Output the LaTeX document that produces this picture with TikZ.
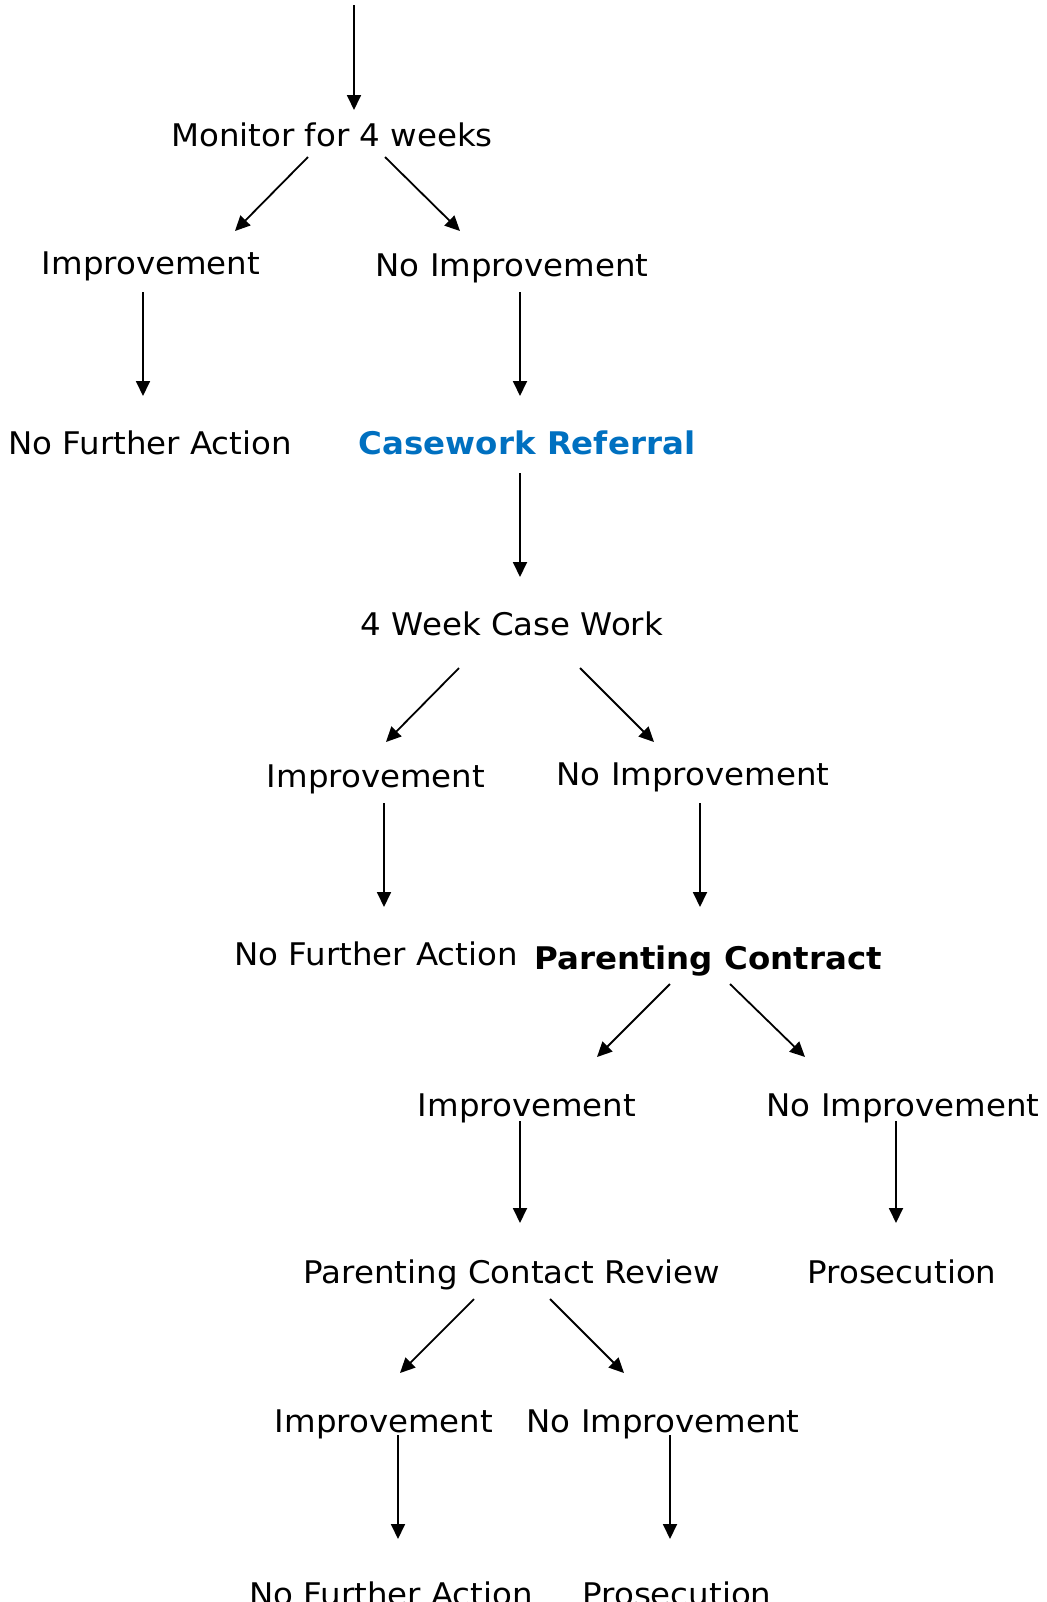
\documentclass[tikz,border=0pt]{standalone}
\usepackage{fontspec}
\setmainfont[FakeStretch=1.04]{DejaVu Sans}
\usetikzlibrary{arrows.meta}
\definecolor{referralblue}{HTML}{0070C0}

\tikzset{
  step text/.style={anchor=base,inner sep=0pt,font=\fontsize{15.6pt}{18pt}\selectfont},
  key text/.style={step text,font=\fontsize{15.6pt}{18pt}\selectfont\bfseries},
  flow/.style={-{Triangle[length=7.5pt,width=7pt]},line width=0.9pt}
}

\begin{document}
\begin{tikzpicture}[x=0.5pt,y=-0.5pt]
  \useasboundingbox (0,0) rectangle (1047,1602);

  % steps, one row at a time
  \coordinate (entry) at (354,5);
  \node[step text] (monitor) at (332,146) {Monitor for 4 weeks};

  \node[step text] (imp1) at (151,274) {Improvement};
  \node[step text] (noimp1) at (512,276) {No Improvement};
  \node[step text] (nfa1) at (150,454) {No Further Action};
  \node[key text,text=referralblue] (referral) at (527,454) {Casework Referral};

  \node[step text] (casework) at (512,635) {4 Week Case Work};
  \node[step text] (imp2) at (376,787) {Improvement};
  \node[step text] (noimp2) at (693,785) {No Improvement};
  \node[step text] (nfa2) at (376,965) {No Further Action};
  \node[key text] (contract) at (708,969) {Parenting Contract};

  \node[step text] (imp3) at (527,1116) {Improvement};
  \node[step text] (noimp3) at (903,1116) {No Improvement};
  \node[step text] (review) at (512,1283) {Parenting Contact Review};
  \node[step text] (pros1) at (902,1283) {Prosecution};

  \node[step text] (imp4) at (384,1432) {Improvement};
  \node[step text] (noimp4) at (663,1432) {No Improvement};
  \node[step text] (nfa3) at (391,1605) {No Further Action};
  \node[step text] (pros2) at (677,1605) {Prosecution};

  % arrows
  \draw[flow] (entry) -- ([shift={(22,-36)}]monitor.base);
  \draw[flow] ([shift={(-24,11)}]monitor.base) -- ([shift={(84,-43)}]imp1.base);
  \draw[flow] ([shift={(53,11)}]monitor.base) -- ([shift={(-52,-45)}]noimp1.base);
  \draw[flow] ([shift={(-8,18)}]imp1.base) -- ([shift={(-7,-58)}]nfa1.base);
  \draw[flow] ([shift={(8,16)}]noimp1.base) -- ([shift={(-7,-58)}]referral.base);
  \draw[flow] ([shift={(-7,19)}]referral.base) -- ([shift={(8,-58)}]casework.base);

  \draw[flow] ([shift={(-53,33)}]casework.base) -- ([shift={(10,-45)}]imp2.base);
  \draw[flow] ([shift={(68,33)}]casework.base) -- ([shift={(-39,-43)}]noimp2.base);
  \draw[flow] ([shift={(8,16)}]imp2.base) -- ([shift={(8,-58)}]nfa2.base);
  \draw[flow] ([shift={(7,18)}]noimp2.base) -- ([shift={(-8,-62)}]contract.base);

  \draw[flow] ([shift={(-38,15)}]contract.base) -- ([shift={(70,-59)}]imp3.base);
  \draw[flow] ([shift={(22,15)}]contract.base) -- ([shift={(-98,-59)}]noimp3.base);
  \draw[flow] ([shift={(-7,5)}]imp3.base) -- ([shift={(8,-60)}]review.base);
  \draw[flow] ([shift={(-7,5)}]noimp3.base) -- ([shift={(-6,-60)}]pros1.base);

  \draw[flow] ([shift={(-38,16)}]review.base) -- ([shift={(16,-59)}]imp4.base);
  \draw[flow] ([shift={(38,16)}]review.base) -- ([shift={(-39,-59)}]noimp4.base);
  \draw[flow] ([shift={(14,3)}]imp4.base) -- ([shift={(7,-66)}]nfa3.base);
  \draw[flow] ([shift={(7,3)}]noimp4.base) -- ([shift={(-7,-66)}]pros2.base);
\end{tikzpicture}
\end{document}
